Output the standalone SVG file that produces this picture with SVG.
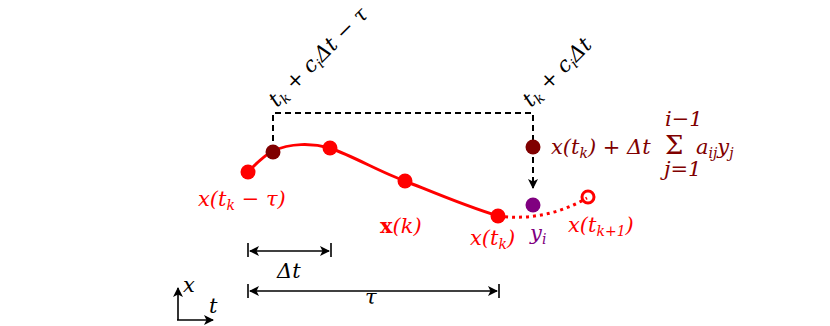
<svg xmlns="http://www.w3.org/2000/svg" width="830" height="326" viewBox="0 0 830 326">
<defs>
<marker id="ah" viewBox="0 0 10 10" refX="9" refY="5" markerWidth="10" markerHeight="10" markerUnits="userSpaceOnUse" orient="auto-start-reverse">
<path d="M0,0 L10,5 L0,10 L2.5,5 Z" fill="#000"/>
</marker>
</defs>
<style>
text{font-family:"DejaVu Serif","Liberation Serif",serif;font-style:italic;font-size:21px}
.sub{font-size:14px}
.red{fill:#f00}
.dred{fill:#800000}
.pur{fill:#800080}
.blk{fill:#000}
.dash{fill:none;stroke:#000;stroke-width:2;stroke-dasharray:6 4}
.dim{fill:none;stroke:#000;stroke-width:1.6}
.tick{stroke:#000;stroke-width:1.6}
</style>
<rect width="830" height="326" fill="#fff"/>
<g id="connectors">
<path class="dash" d="M273,151 V113 H533 V147"/>
<path class="dash" d="M533,147 V188" marker-end="url(#ah)"/>
<path d="M248,172 C256,164 263,156 273,151 C290,143 312,143 330,148 C355,157 380,172 405,181 C435,193 465,206 498,216" fill="none" stroke="#f00" stroke-width="3"/>
<path d="M498,216 Q545,222 587,198" fill="none" stroke="#f00" stroke-width="3" stroke-dasharray="3 4"/>
<line class="tick" x1="248" y1="243" x2="248" y2="257"/>
<line class="tick" x1="331" y1="243" x2="331" y2="257"/>
<line class="dim" x1="250" y1="251" x2="329" y2="251" marker-start="url(#ah)" marker-end="url(#ah)"/>
<line class="tick" x1="248" y1="284" x2="248" y2="298"/>
<line class="tick" x1="499" y1="284" x2="499" y2="298"/>
<line class="dim" x1="250" y1="291" x2="497" y2="291" marker-start="url(#ah)" marker-end="url(#ah)"/>
<path class="dim" d="M178,320 V288" marker-end="url(#ah)"/>
<path class="dim" d="M177,320 H213" marker-end="url(#ah)"/>
</g>
<g id="node-xtk-tau"><circle cx="248" cy="172" r="7.5" class="red"/>
<text class="red" x="198" y="206">x(t<tspan class="sub" dy="4">k</tspan><tspan dy="-4"> − τ)</tspan></text></g>
<g id="node-stage-past"><circle cx="273" cy="152" r="7.5" class="dred"/></g>
<g id="node-p2"><circle cx="330" cy="148" r="7.5" class="red"/></g>
<g id="node-xk"><circle cx="405" cy="181" r="7.5" class="red"/>
<text class="red" x="380" y="233"><tspan font-style="normal" font-weight="bold">x</tspan>(k)</text></g>
<g id="node-xtk"><circle cx="498" cy="216" r="7.5" class="red"/>
<text class="red" x="470" y="245">x(t<tspan class="sub" dy="4">k</tspan><tspan dy="-4">)</tspan></text></g>
<g id="node-stage"><circle cx="533" cy="147" r="7.5" class="dred"/>
<text class="dred" x="551" y="154">x(t<tspan class="sub" dy="4">k</tspan><tspan dy="-4">) + Δt</tspan></text>
<text class="dred" x="665" y="154" style="font-style:normal;font-size:26px">Σ</text>
<text class="dred" x="665" y="126" font-size="12">i−1</text>
<text class="dred" x="664" y="176" font-size="12">j=1</text>
<text class="dred" x="696" y="154">a<tspan class="sub" dy="4">ij</tspan><tspan dy="-4">y</tspan><tspan class="sub" dy="4">j</tspan></text></g>
<g id="node-yi"><circle cx="533" cy="205" r="7.5" class="pur"/>
<text class="pur" x="530" y="240">y<tspan class="sub" dy="4">i</tspan></text></g>
<g id="node-xtk1"><circle cx="588" cy="197" r="6" fill="none" stroke="#f00" stroke-width="3"/>
<text class="red" x="568" y="232">x(t<tspan class="sub" dy="4">k+1</tspan><tspan dy="-4">)</tspan></text></g>
<g id="labels">
<text class="blk" font-size="20" transform="translate(277,108) rotate(-45)">t<tspan class="sub" dy="4">k</tspan><tspan dy="-4"> + c</tspan><tspan class="sub" dy="4">i</tspan><tspan dy="-4">Δt − τ</tspan></text>
<text class="blk" font-size="20" transform="translate(531,108) rotate(-45)">t<tspan class="sub" dy="4">k</tspan><tspan dy="-4"> + c</tspan><tspan class="sub" dy="4">i</tspan><tspan dy="-4">Δt</tspan></text>
<text class="blk" x="277" y="278">Δt</text>
<text class="blk" x="365" y="304">τ</text>
<text class="blk" x="183" y="292" font-size="14">x</text>
<text class="blk" x="209" y="313" font-size="14">t</text>
</g>
</svg>
